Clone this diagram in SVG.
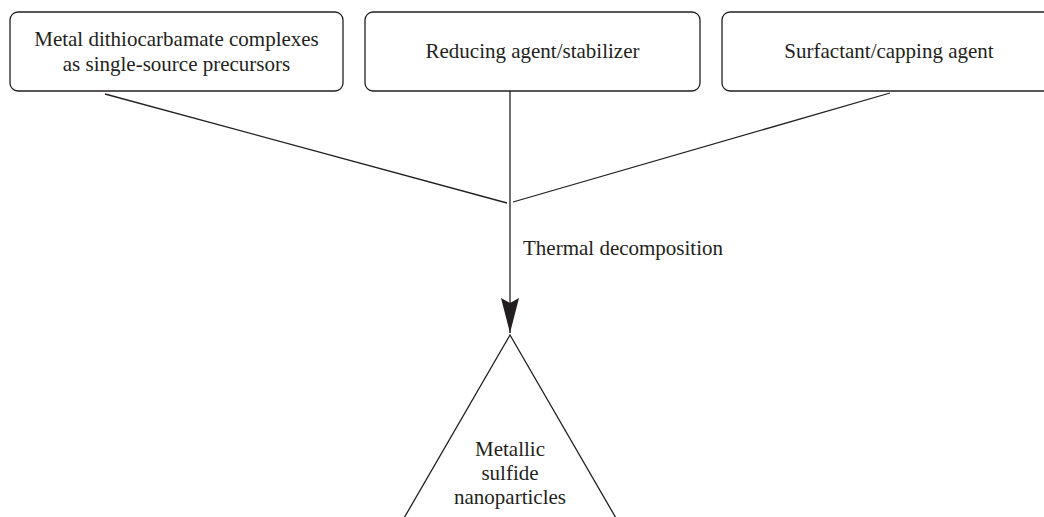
<svg xmlns="http://www.w3.org/2000/svg" width="1044" height="517" viewBox="0 0 1044 517">
<style>
.box{fill:#fff;stroke:#231f20;stroke-width:1.3}
.ln{fill:none;stroke:#231f20;stroke-width:1.3}
.t{font-family:"Liberation Serif","Times New Roman",serif;font-size:21px;fill:#231f20;text-anchor:middle}
</style>
<defs>
<marker id="ah" markerUnits="userSpaceOnUse" markerWidth="40" markerHeight="20" refX="36" refY="10" orient="auto" viewBox="0 0 40 20">
<path d="M1,1 L6,10 L1,19 L36,10 Z" fill="#231f20"/>
</marker>
</defs>
<g id="connectors">
<line class="ln" x1="105" y1="94" x2="507" y2="203"/>
<line class="ln" x1="890" y1="93" x2="513" y2="202"/>
<line class="ln" x1="510" y1="91" x2="510" y2="333" marker-end="url(#ah)"/>
<text class="t" x="523" y="255" style="text-anchor:start">Thermal decomposition</text>
</g>
<g id="n1">
<rect class="box" x="10" y="12" width="333" height="79" rx="8"/>
<text class="t" x="176.5" y="46">Metal dithiocarbamate complexes</text>
<text class="t" x="176.5" y="71">as single-source precursors</text>
</g>
<g id="n2">
<rect class="box" x="365" y="12" width="335" height="79" rx="8"/>
<text class="t" x="532.5" y="58">Reducing agent/stabilizer</text>
</g>
<g id="n3">
<rect class="box" x="722" y="12" width="335" height="79" rx="8"/>
<text class="t" x="889" y="58">Surfactant/capping agent</text>
</g>
<g id="n4">
<path class="ln" d="M400,525 L510,335 L620,525"/>
<text class="t" x="510" y="456">Metallic</text>
<text class="t" x="510" y="480">sulfide</text>
<text class="t" x="510" y="504">nanoparticles</text>
</g>
</svg>
